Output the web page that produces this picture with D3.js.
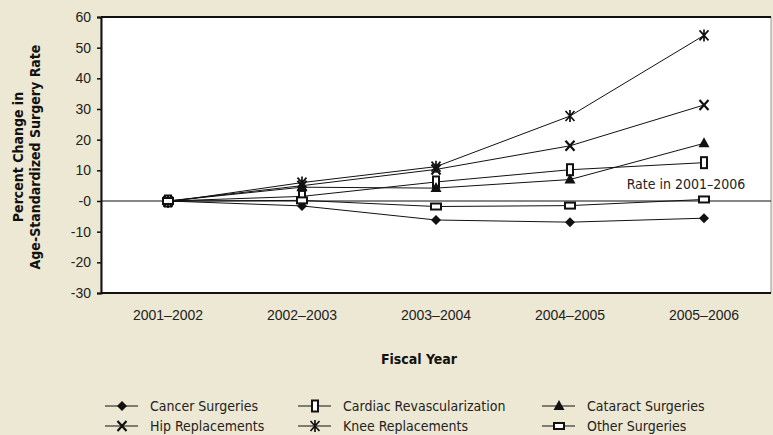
<!DOCTYPE html>
<html>
<head>
<meta charset="utf-8">
<script src="https://cdn.jsdelivr.net/npm/d3@7"></script>
<style>
  body { margin: 0; background: #ede8d3; }
  svg { display: block; font-family: "Liberation Sans Narrow", "DejaVu Sans", sans-serif; font-stretch: condensed; }
  .tick text { font-size: 14px; fill: #222; }
</style>
</head>
<body>
<div id="chart"></div>
<script>
// data
const years = ["2001\u20132002", "2002\u20132003", "2003\u20132004", "2004\u20132005", "2005\u20132006"];
const yTicks = [60, 50, 40, 30, 20, 10, 0, -10, -20, -30];
const cancer = [0, -1.6, -6.2, -6.9, -5.6];
const cardiac = [0, 1.5, 6.2, 10.2, 12.5];
const cataract = [0, 4.5, 4.2, 7.0, 18.8];
const hip = [0, 5.0, 10.3, 18.0, 31.3];
const knee = [-0.3, 6.0, 11.2, 27.7, 54.0];
const other = [0, 0.2, -1.8, -1.5, 0.5];

const seriesNames = ["Cancer Surgeries", "Cardiac Revascularization", "Cataract Surgeries",
                     "Hip Replacements", "Knee Replacements", "Other Surgeries"];
const seriesVals = [cancer, cardiac, cataract, hip, knee, other];
const seriesMarks = ["diamond", "tallrect", "triangle", "x", "asterisk", "widerect"];

const W = 773, H = 435;
const margin = { top: 17, right: 2, bottom: 142, left: 101 };
const width = W - margin.left - margin.right;
const height = H - margin.top - margin.bottom;

const svg = d3.select("#chart").append("svg")
    .attr("width", W).attr("height", H);

const g = svg.append("g").attr("transform", `translate(${margin.left},${margin.top})`);

let x = d3.scaleBand().domain(years).range([0, width]);
let y = d3.scaleLinear().domain([-30, 60]).range([height, 0]);

// plot background
g.append("rect").attr("width", width).attr("height", height).attr("fill", "#fff")
    .attr("stroke", "#999").attr("stroke-width", 1);

// frame top/bottom
g.append("line").attr("x1", 0).attr("x2", width).attr("y1", 0).attr("y2", 0)
    .attr("stroke", "#111").attr("stroke-width", 2);
g.append("line").attr("x1", 0).attr("x2", width).attr("y1", height).attr("y2", height)
    .attr("stroke", "#111").attr("stroke-width", 2);

// y axis
const yAxis = g.append("g")
    .call(d3.axisLeft(y).tickValues(yTicks).tickSize(4).tickPadding(6)
        .tickFormat(d => d === 0 ? "-0" : d));
yAxis.select(".domain").attr("stroke", "#111").attr("stroke-width", 2);
yAxis.selectAll(".tick line").attr("stroke", "#111").attr("stroke-width", 1.5);

// x labels
const xAxis = g.append("g").attr("transform", `translate(0,${height})`)
    .call(d3.axisBottom(x).tickSize(0).tickPadding(17));
xAxis.select(".domain").remove();

// zero reference line
g.append("line").attr("x1", 0).attr("x2", width).attr("y1", y(0)).attr("y2", y(0))
    .attr("stroke", "#111").attr("stroke-width", 1.2);
g.append("text").attr("x", x(years[4]) + x.bandwidth() / 2 - 18).attr("y", y(0) - 12)
    .attr("text-anchor", "middle").attr("font-size", 14).attr("fill", "#222")
    .text("Rate in 2001\u20132006");

// axis titles
svg.append("text").attr("x", margin.left + width / 2 - 17).attr("y", 364)
    .attr("text-anchor", "middle").attr("font-weight", "bold").attr("font-size", 14)
    .attr("fill", "#111").text("Fiscal Year");
const yl = svg.append("text").attr("transform", "translate(29,157) rotate(-90)")
    .attr("text-anchor", "middle").attr("font-weight", "bold").attr("font-size", 14).attr("fill", "#111");
yl.append("tspan").attr("x", 0).attr("dy", -6).text("Percent Change in");
yl.append("tspan").attr("x", 0).attr("dy", 17).text("Age-Standardized Surgery Rate");

// marker drawing
function drawMark(sel, type) {
    if (type === "diamond") {
        sel.append("path").attr("d", "M0,-5L5,0L0,5L-5,0Z").attr("fill", "#111");
    } else if (type === "triangle") {
        sel.append("path").attr("d", "M0,-6L5.5,4L-5.5,4Z").attr("fill", "#111");
    } else if (type === "tallrect") {
        sel.append("rect").attr("x", -3).attr("y", -5.5).attr("width", 6).attr("height", 11)
            .attr("fill", "#fff").attr("stroke", "#111").attr("stroke-width", 2);
    } else if (type === "widerect") {
        sel.append("rect").attr("x", -5).attr("y", -3).attr("width", 10).attr("height", 6)
            .attr("fill", "#fff").attr("stroke", "#111").attr("stroke-width", 2);
    } else if (type === "x") {
        sel.append("path").attr("d", "M-4.5,-5L4.5,5M4.5,-5L-4.5,5")
            .attr("stroke", "#111").attr("stroke-width", 2.2).attr("fill", "none");
    } else if (type === "asterisk") {
        sel.append("path").attr("d", "M-4.5,-5L4.5,5M4.5,-5L-4.5,5M0,-6L0,6")
            .attr("stroke", "#111").attr("stroke-width", 1.7).attr("fill", "none");
    }
}

const line = d3.line()
    .x((d, i) => x(years[i]) + x.bandwidth() / 2)
    .y(d => y(d));

seriesVals.forEach((vals, s) => {
    g.append("path").datum(vals).attr("d", line)
        .attr("fill", "none").attr("stroke", "#111").attr("stroke-width", 1);
});
seriesVals.forEach((vals, s) => {
    vals.forEach((v, i) => {
        const m = g.append("g")
            .attr("transform", `translate(${x(years[i]) + x.bandwidth() / 2},${y(v)})`);
        drawMark(m, seriesMarks[s]);
    });
});

// legend
const legX = [105, 298, 542];
const legY = [406, 426];
const legend = svg.selectAll(".legend")
    .data(seriesNames)
    .enter()
    .append("g")
    .attr("class", "legend")
    .attr("transform", (d, i) => `translate(${legX[i % 3]},${legY[Math.floor(i / 3)]})`);

legend.append("line").attr("x1", 0).attr("x2", 33).attr("y1", 0).attr("y2", 0)
    .attr("stroke", "#111").attr("stroke-width", 1.2);
legend.each(function (d, i) {
    const m = d3.select(this).append("g").attr("transform", "translate(17,0)");
    drawMark(m, seriesMarks[i]);
});
legend.append("text").attr("x", 45).attr("y", 0).attr("dy", "0.35em")
    .attr("font-size", 14).attr("fill", "#222").text(d => d);
</script>
</body>
</html>
